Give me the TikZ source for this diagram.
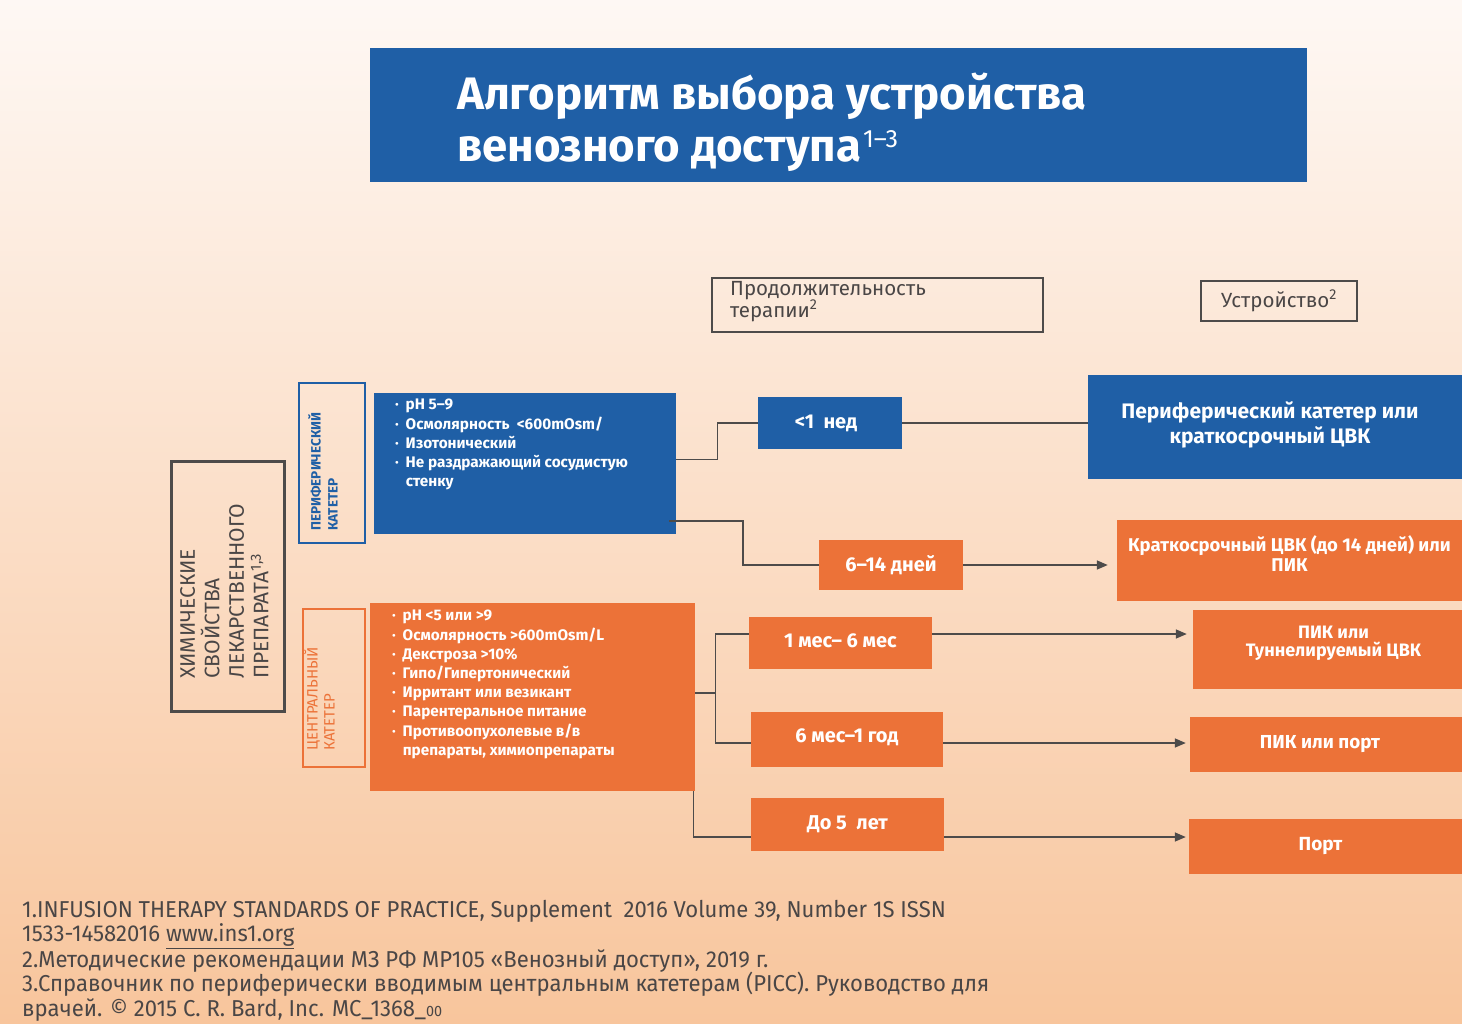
\documentclass[tikz,border=0pt]{standalone}
\usepackage{fontspec}
\setmainfont{Fira Sans}
\newfontfamily\condfont[FakeStretch=0.96]{Fira Sans}
\usetikzlibrary{arrows.meta,calc}
\definecolor{myblue}{HTML}{1F5FA6}
\definecolor{myorange}{HTML}{EC7238}
\definecolor{lnclr}{HTML}{4D4B4A}
\definecolor{txgray}{HTML}{4A4646}
\definecolor{bgtop}{HTML}{FEF8F4}
\definecolor{bgbot}{HTML}{F8C59C}
\tikzset{
  bbox/.style={fill=myblue, text=white, inner sep=0pt, align=center, font=\bfseries\fontsize{20}{25}\selectfont},
  obox/.style={fill=myorange, text=white, inner sep=0pt, align=center, font=\bfseries\fontsize{20}{23}\selectfont},
  hdr/.style={draw=lnclr, line width=2pt, inner sep=0pt},
  conn/.style={draw=lnclr, line width=1.4pt},
  aconn/.style={draw=lnclr, line width=1.4pt, -{Triangle[length=11pt,width=9pt]}},
  listtxt/.style={text=white, inner sep=0pt, anchor=north west, align=left, font=\bfseries\fontsize{15.3}{19.2}\selectfont},
}
\newcommand\bul{\textperiodcentered\hspace{0.45em}}
\begin{document}
\begin{tikzpicture}[x=1pt,y=-1pt]
\useasboundingbox (0,0) rectangle (1462,1024);
\shade[top color=bgtop, bottom color=bgbot] (0,0) rectangle (1462,1024);
% title
\node[fill=myblue, minimum width=937pt, minimum height=134pt, inner sep=0pt] (title) at (838.5,115) {};
\node[text=white, anchor=base west, inner sep=0pt, font=\fontsize{45.5}{52}\selectfont\bfseries] (title1) at (457,110) {Алгоритм выбора устройства};
\node[text=white, anchor=base west, inner sep=0pt, font=\fontsize{45.5}{52}\selectfont\bfseries] (title2) at (457,162) {венозного доступа\hspace{2pt}\raisebox{14pt}{\fontsize{25}{26}\selectfont\mdseries 1–3}};
% headers
\node[hdr, minimum width=331pt, minimum height=54pt] (dur) at (877.5,305) {};
\node[text=txgray, anchor=north west, inner sep=0pt, align=left, font=\fontsize{20.5}{22}\selectfont] (durtx) at (730,281) {Продолжительность\\терапии\textsuperscript{2}};
\node[hdr, minimum width=156pt, minimum height=40pt, text=txgray, font=\fontsize{20.5}{22}\selectfont] (dev) at (1279,301) {Устройство\textsuperscript{2}};
% left label boxes
\node[draw=lnclr, line width=3pt, minimum width=113pt, minimum height=250pt, inner sep=0pt] (chem) at (227.5,586) {};
\node[rotate=90, anchor=north west, inner sep=0pt, align=left, text=txgray, font=\fontsize{21}{24.5}\selectfont] (chemtx) at (180,679) {ХИМИЧЕСКИЕ\\СВОЙСТВА\\ЛЕКАРСТВЕННОГО\\ПРЕПАРАТА\textsuperscript{1,3}};
\node[draw=myblue, line width=2.5pt, minimum width=66pt, minimum height=160pt, inner sep=0pt] (per) at (332,463) {};
\node[rotate=90, anchor=north west, inner sep=0pt, align=left, text=myblue, font=\bfseries\fontsize{13.5}{17}\selectfont] (pertx) at (308,531) {ПЕРИФЕРИЧЕСКИЙ\\КАТЕТЕР};
\node[draw=myorange, line width=2pt, minimum width=62pt, minimum height=158pt, inner sep=0pt] (cen) at (334,688) {};
\node[rotate=90, anchor=north west, inner sep=0pt, align=left, text=myorange, font=\fontsize{15}{17}\selectfont] (centx) at (304,751) {ЦЕНТРАЛЬНЫЙ\\КАТЕТЕР};
% lists
\node[fill=myblue, minimum width=302pt, minimum height=141pt, inner sep=0pt] (bl) at (525,463.5) {};
\node[listtxt] (bltx) at (395,399) {\bul pH 5–9\\\bul Осмолярность \ <600mOsm/\\\bul Изотонический\\\bul Не раздражающий сосудистую\\\phantom{\bul}стенку};
\node[fill=myorange, minimum width=325pt, minimum height=188pt, inner sep=0pt] (ol) at (532.5,697) {};
\node[listtxt] (oltx) at (392,610) {\bul pH <5 или >9\\\bul Осмолярность >600mOsm/L\\\bul Декстроза >10\%\\\bul Гипо/Гипертонический\\\bul Ирритант или везикант\\\bul Парентеральное питание\\\bul Противоопухолевые в/в\\\phantom{\bul}препараты, химиопрепараты};
% durations
\node[bbox, minimum width=144pt, minimum height=52pt] (d1) at (830,423) {\hspace*{-8pt}\raisebox{1pt}{<1 \ нед}};
\node[obox, minimum width=144pt, minimum height=50pt] (d2) at (891,565) {\raisebox{4pt}{6–14 дней}};
\node[obox, minimum width=183pt, minimum height=52pt] (d3) at (840.5,643) {\raisebox{4pt}{1 мес– 6 мес}};
\node[obox, minimum width=192pt, minimum height=55pt] (d4) at (847,739.5) {\raisebox{8pt}{6 мес–1 год}};
\node[obox, minimum width=193pt, minimum height=53pt] (d5) at (847.5,824.5) {\raisebox{4pt}{До 5 \ лет}};
% devices
\node[bbox, font=\bfseries\fontsize{21}{24}\selectfont, minimum width=374pt, minimum height=104pt] (r1) at (1275,427) {\hspace*{-10pt}\raisebox{9pt}{\shortstack{Периферический катетер или\\краткосрочный ЦВК}}};
\node[obox, font=\bfseries\fontsize{18.5}{22}\selectfont, minimum width=345pt, minimum height=81pt] (r2) at (1289.5,560.5) {\raisebox{13pt}{\shortstack{Краткосрочный ЦВК (до 14 дней) или\\ПИК}}};
\node[obox, font=\bfseries\fontsize{18}{22}\selectfont, minimum width=269pt, minimum height=79pt] (r3) at (1327.5,649.5) {\hspace*{12pt}\raisebox{16pt}{\shortstack{ПИК или\\Туннелируемый ЦВК}}};
\node[obox, font=\bfseries\fontsize{18.8}{22}\selectfont, minimum width=272pt, minimum height=55pt] (r4) at (1326,744.5) {\hspace*{-12pt}\raisebox{6pt}{ПИК или порт}};
\node[obox, font=\bfseries\fontsize{19}{22}\selectfont, minimum width=273pt, minimum height=55pt] (r5) at (1325.5,846.5) {\hspace*{-10pt}\raisebox{3pt}{Порт}};
% connectors
\draw[conn] ($(bl.east)+(0,-4)$) -- ++(41,0) |- (d1.west);
\draw[conn] (d1.east) -- (d1.east -| r1.west);
\draw[draw=lnclr, line width=2.4pt] ($(bl.south east)+(-7,-13)$) -- ++(74,0) |- (d2.west);
\draw[aconn, shorten >=9pt] (d2.east) -- (d2.east -| r2.west);
\coordinate (oj) at ($(ol.east)+(20,-4)$);
\draw[conn] ($(ol.east)+(0,-4)$) -- (oj);
\draw[conn] (oj) |- ($(d3.west)+(0,-9)$);
\draw[conn] (oj) |- ($(d4.west)+(0,3.5)$);
\draw[conn] ($(ol.south east)+(-2,0)$) |- ($(d5.west)+(0,12.5)$);
\draw[aconn, shorten >=6pt] ($(d3.east)+(0,-9)$) -- ($(d3.east -| r3.west)+(0,-9)$);
\draw[aconn, shorten >=4pt] ($(d4.east)+(0,3.5)$) -- ($(d4.east -| r4.west)+(0,3.5)$);
\draw[aconn, shorten >=3pt] ($(d5.east)+(0,12.5)$) -- ($(d5.east -| r5.west)+(0,12.5)$);
% footnotes
\node[anchor=north west, inner sep=0pt, align=left, text=txgray, font=\condfont\fontsize{23}{24.4}\selectfont] (foot) at (22,900) {1.INFUSION THERAPY STANDARDS OF PRACTICE, Supplement \ 2016 Volume 39, Number 1S ISSN\\1533-14582016 \underline{www.ins1.org}\\2.Методические рекомендации МЗ РФ МР105 «Венозный доступ», 2019 г.\\3.Справочник по периферически вводимым центральным катетерам (PICC). Руководство для\\врачей. © 2015 C. R. Bard, Inc. MC\_1368\_{\fontsize{15}{16}\selectfont 00}};
\end{tikzpicture}
\end{document}
